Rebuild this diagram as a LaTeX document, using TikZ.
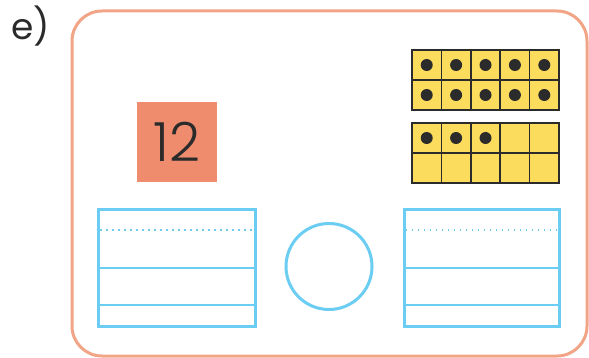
\documentclass[tikz,border=0pt]{standalone}
\usepackage{fontspec}
\setmainfont{Poppins}
\newfontfamily\cardfont{Poppins Light}
\usetikzlibrary{positioning}

\definecolor{frameorange}{HTML}{F2A486}
\definecolor{cardorange}{HTML}{EF8C6D}
\definecolor{tenyellow}{HTML}{FCDC5C}
\definecolor{dotgray}{HTML}{2B2B2B}
\definecolor{lineblue}{HTML}{6CCDF3}

\begin{document}
\begin{tikzpicture}[x=1pt, y=-1pt,
      card/.style={fill=cardorange, minimum size=80pt, inner sep=0pt, text=dotgray, font=\cardfont\fontsize{54}{54}\selectfont},
      cell/.style={draw=dotgray, line width=1.5pt, fill=tenyellow},
      dot/.style={circle, fill=dotgray, minimum size=12pt, inner sep=0pt},
      box/.style={draw=lineblue, line width=3pt},
      sign/.style={circle, draw=lineblue, line width=3pt, minimum size=86pt, inner sep=0pt},
    ]
      \useasboundingbox (0,0) rectangle (589,358);
      \node[anchor=base west, inner sep=0pt, text=dotgray, font=\fontsize{36}{36}\selectfont] (lbl) at (11,40) {e)};
      \draw[frameorange, line width=3pt, rounded corners=30pt] (72,11) rectangle (587,356);

      \node[card] (num) at (177,142) {12};

      % ten frames
      \foreach \r in {0,1} {
        \foreach \c in {0,...,4} {
          \draw[cell] (412+29.4*\c, 50+30*\r) rectangle ++(29.4,30);
          \draw[cell] (412+29.4*\c, 123+30*\r) rectangle ++(29.4,30);
          \node[dot] (d\r\c) at (426.7+29.4*\c, 65+30*\r) {};
        }
      }
      \foreach \c in {0,1,2}
        \node[dot] (e\c) at (426.7+29.4*\c, 138) {};

      % writing boxes
      \draw[box] (98.5,209.5) rectangle (255.5,326);
      \draw[lineblue, line width=1.5pt, dash pattern=on 1.5pt off 4.5pt] (100,230) -- (254,230);
      \draw[lineblue, line width=1.8pt] (100,268) -- (254,268);
      \draw[lineblue, line width=1.2pt] (100,305) -- (254,305);

      \node[sign] (cmp) at (329,266.5) {};

      \draw[box] (404,209.5) rectangle (559.5,326);
      \draw[lineblue, line width=1.5pt, dash pattern=on 1.5pt off 4.5pt] (405.5,230) -- (558,230);
      \draw[lineblue, line width=1.8pt] (405.5,268) -- (558,268);
      \draw[lineblue, line width=1.2pt] (405.5,305) -- (558,305);
    \end{tikzpicture}
\end{document}
